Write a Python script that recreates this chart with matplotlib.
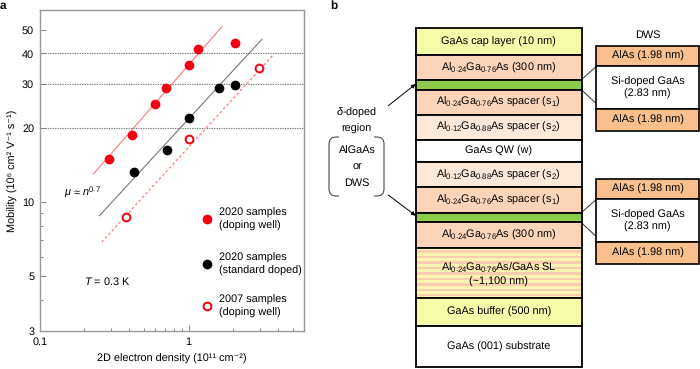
import matplotlib
matplotlib.use('Agg')
import matplotlib.pyplot as plt
from matplotlib.patches import Rectangle, PathPatch
from matplotlib.path import Path
from matplotlib.ticker import FixedLocator, NullFormatter

plt.rcParams['font.family'] = ['Liberation Sans', 'DejaVu Sans']
plt.rcParams['mathtext.fontset'] = 'custom'
plt.rcParams['mathtext.rm'] = 'Liberation Sans'
plt.rcParams['mathtext.it'] = 'Liberation Sans:italic'
plt.rcParams['mathtext.default'] = 'regular'
plt.rcParams['text.hinting'] = 'no_hinting'

FS = 7.8

# panel a data
red_x = [0.29, 0.416, 0.597, 0.708, 1.0, 1.156, 2.06]
red_y = [15.0, 18.6, 25.0, 29.1, 36.0, 41.6, 44.3]
black_x = [0.427, 0.719, 1.01, 1.61, 2.05]
black_y = [13.2, 16.3, 22.0, 29.1, 29.8]
open_x = [0.379, 1.01, 2.99]
open_y = [8.69, 18.0, 35.0]

red_fit_x = [0.23, 1.68]
red_fit_y = [13.0, 51.4]
black_fit_x = [0.252, 3.11]
black_fit_y = [8.8, 45.6]
open_fit_x = [0.261, 3.67]
open_fit_y = [6.88, 39.2]

y_major = [3, 5, 10, 20, 30, 40, 50]
y_minor = [4, 6, 7, 8, 9]
grid_y = [20, 30, 40]

# panel b data (pixel rows of the layer borders)
layer_edges = [27.7, 55.3, 80.3, 89.7, 115, 139.7, 162.3, 187, 213, 222.3, 248, 298, 326, 367]
layer_colors = ['#f6fbaa', '#fcd5b8', '#8ccb4b', '#fcd5b8', '#fde9da', '#ffffff', '#fde9da',
                '#fcd5b8', '#8ccb4b', '#fcd5b8', '#f9f4b0', '#f6fbaa', '#ffffff']
layer_labels = ['GaAs cap layer (10 nm)',
                'Al$_{0.24}$Ga$_{0.76}$As (300 nm)',
                '',
                'Al$_{0.24}$Ga$_{0.76}$As spacer (s$_1$)',
                'Al$_{0.12}$Ga$_{0.88}$As spacer (s$_2$)',
                'GaAs QW (w)',
                'Al$_{0.12}$Ga$_{0.88}$As spacer (s$_2$)',
                'Al$_{0.24}$Ga$_{0.76}$As spacer (s$_1$)',
                '',
                'Al$_{0.24}$Ga$_{0.76}$As (300 nm)',
                'Al$_{0.24}$Ga$_{0.76}$As/GaAs SL\n(~1,100 nm)',
                'GaAs buffer (500 nm)',
                'GaAs (001) substrate']
sl_stripes = [250, 255.5, 261, 266.5, 272, 277.5, 283, 288.5, 293.5]
dws_tops = [45.7, 178.7]
dws_edges = [0, 20.3, 63.6, 85]
dws_colors = ['#f9c08e', '#ffffff', '#f9c08e']
dws_labels = ['AlAs (1.98 nm)', 'Si-doped GaAs\n(2.83 nm)', 'AlAs (1.98 nm)']

fig = plt.figure(figsize=(7, 3.69), dpi=100)
W, H = 700.0, 369.0

# a
ax = fig.add_axes([39.7 / W, 1 - 331 / H, (304.3 - 39.7) / W, (331 - 10) / H])
ax.set_xscale('log')
ax.set_yscale('log')
ax.set_xlim(0.1, 6.0)
ax.set_ylim(3, 60)
for g in grid_y:
    ax.axhline(g, color='#777777', lw=0.8, ls=(0, (1.2, 1.0)), zorder=1)
ax.plot(red_fit_x, red_fit_y, color='#f77', lw=0.8, zorder=2)
ax.plot(black_fit_x, black_fit_y, color='#777777', lw=0.8, zorder=2)
ax.plot(open_fit_x, open_fit_y, color='#f77', lw=0.9, ls=(0, (2, 2)), zorder=2)
ax.plot(red_x, red_y, 'o', color='#f5000f', ms=7, mew=0, zorder=3)
ax.plot(black_x, black_y, 'o', color='black', ms=7, mew=0, zorder=3)
ax.plot(open_x, open_y, 'o', mfc='white', mec='#f5000f', ms=5.6, mew=1.4, zorder=3)

ax.plot([1.335], [8.5], 'o', color='#f5000f', ms=7, mew=0)
ax.plot([1.335], [5.59], 'o', color='black', ms=7, mew=0)
ax.plot([1.335], [3.78], 'o', mfc='white', mec='#f5000f', ms=5.6, mew=1.4)
ax.text(1.61, 8.5, '2020 samples\n(doping well)', fontsize=FS, va='center', linespacing=1.27)
ax.text(1.61, 5.59, '2020 samples\n(standard doped)', fontsize=FS, va='center', linespacing=1.27)
ax.text(1.61, 3.78, '2007 samples\n(doping well)', fontsize=FS, va='center', linespacing=1.27)
ax.text(0.2, 4.78, '$\\mathit{T}$ = 0.3 K', fontsize=FS, va='center')
ax.text(0.145, 10.97, '$\\mathit{\\mu}$ ≈ $\\mathit{n}^{0.7}$', fontsize=FS, va='center')

ax.xaxis.set_major_locator(FixedLocator([0.1, 1]))
ax.set_xticklabels(['0.1', '1'])
ax.xaxis.set_minor_locator(FixedLocator([0.2, 0.3, 0.4, 0.5, 0.6, 0.7, 0.8, 0.9, 2, 3, 4, 5]))
ax.xaxis.set_minor_formatter(NullFormatter())
ax.yaxis.set_major_locator(FixedLocator(y_major))
ax.set_yticklabels([str(v) for v in y_major])
ax.yaxis.set_minor_locator(FixedLocator(y_minor))
ax.yaxis.set_minor_formatter(NullFormatter())
ax.tick_params(axis='both', which='major', direction='in', length=4, width=0.6, color='#777777',
               labelsize=FS, pad=4)
ax.tick_params(axis='both', which='minor', direction='in', length=2, width=0.6, color='#777777')
for s in ax.spines.values():
    s.set_color('#999999')
    s.set_linewidth(1.0)
ax.set_xlabel('2D electron density (10¹¹ cm⁻²)', fontsize=FS, labelpad=5)
ax.set_ylabel('Mobility (10⁶ cm² V⁻¹ s⁻¹)', fontsize=FS, labelpad=3)

# b, pixel coordinates
bx = fig.add_axes([0, 0, 1, 1], facecolor='none')
bx.set_xlim(0, W)
bx.set_ylim(H, 0)
bx.axis('off')

bx.text(0, 6, 'a', fontsize=8.5, fontweight='bold', va='center')
bx.text(330, 6, 'b', fontsize=8.5, fontweight='bold', va='center')

LEFT, RIGHT = 415.7, 581.7
for i, col in enumerate(layer_colors):
    y0, y1 = layer_edges[i], layer_edges[i + 1]
    bx.add_patch(Rectangle((LEFT, y0), RIGHT - LEFT, y1 - y0, fc=col, ec='black', lw=1.3, zorder=2))
    if col == '#f9f4b0':
        for st in sl_stripes:
            bx.add_patch(Rectangle((LEFT + 1, st), RIGHT - LEFT - 2, 2.6, fc='#fbcdb0', ec='none', zorder=2.5))
    if layer_labels[i]:
        bx.text((LEFT + RIGHT) / 2, (y0 + y1) / 2 + (0.8 if '\n' in layer_labels[i] else 0), layer_labels[i],
                fontsize=FS, ha='center', va='center', linespacing=1.35, zorder=3)

for top in dws_tops:
    for i, col in enumerate(dws_colors):
        y0, y1 = top + dws_edges[i], top + dws_edges[i + 1]
        bx.add_patch(Rectangle((596, y0), 103, y1 - y0, fc=col, ec='black', lw=1.2, zorder=2, clip_on=False))
        bx.text(647.5, (y0 + y1) / 2, dws_labels[i], fontsize=FS, ha='center', va='center', linespacing=1.27,
                zorder=3)
    bx.plot([581.7, 596], [top + 33.6, top + 21], color='#333333', lw=0.7, zorder=1)
    bx.plot([581.7, 596], [top + 44.3, top + 57.6], color='#333333', lw=0.7, zorder=1)
bx.text(647.5, 35, 'DWS', fontsize=FS, ha='center', va='center')

bx.annotate('', xy=(415.7, 84), xytext=(388.3, 105.7),
            arrowprops=dict(arrowstyle='-|>', color='black', lw=0.7, mutation_scale=6, shrinkA=0, shrinkB=0))
bx.annotate('', xy=(415.7, 215.7), xytext=(388.3, 195),
            arrowprops=dict(arrowstyle='-|>', color='black', lw=0.7, mutation_scale=6, shrinkA=0, shrinkB=0))
bx.text(357, 113, '$\\mathit{\\delta}$-doped', fontsize=FS, ha='center', va='center')
bx.text(356, 129.3, 'region', fontsize=FS, ha='center', va='center')
bx.text(357, 150.7, 'AlGaAs', fontsize=FS, ha='center', va='center')
bx.text(357, 167, 'or', fontsize=FS, ha='center', va='center')
bx.text(357, 183, 'DWS', fontsize=FS, ha='center', va='center')

# rounded brackets round the AlGaAs / DWS choice
codes = [Path.MOVETO, Path.LINETO, Path.CURVE3, Path.CURVE3, Path.LINETO, Path.CURVE3, Path.CURVE3, Path.LINETO]
for xs, xe, sign in [(329, 339, 1), (384, 374, -1)]:
    verts = [(xe, 137), (xs + sign * 7, 137), (xs, 137), (xs, 144), (xs, 189), (xs, 196), (xs + sign * 7, 196),
             (xe, 196)]
    bx.add_patch(PathPatch(Path(verts, codes), fc='none', ec='#333333', lw=0.7))

fig.savefig('out.png', dpi=100)
